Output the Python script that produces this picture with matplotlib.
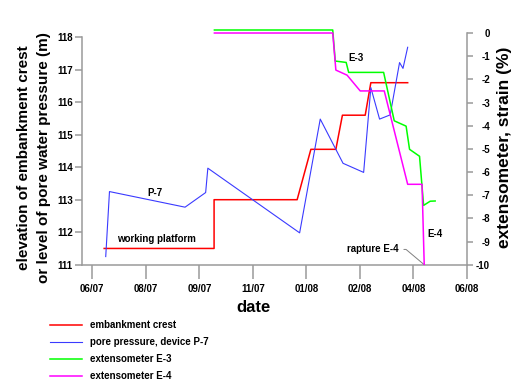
import matplotlib
matplotlib.use("Agg")
import matplotlib.pyplot as plt
import numpy as np

plt.rcParams['font.family'] = ['Liberation Sans', 'DejaVu Sans']
plt.rcParams['font.weight'] = 'bold'
plt.rcParams['axes.unicode_minus'] = False

# x values: months since June 2007
tick_pos = np.linspace(0, 12, 8)
tick_labels = ["06/07", "08/07", "09/07", "11/07", "01/08", "02/08", "04/08", "06/08"]

crest_x = [0.38, 3.90, 3.90, 6.56, 7.00, 7.80, 8.01, 8.74, 8.92, 10.10]
crest_y = [111.5, 111.5, 113.0, 113.0, 114.55, 114.55, 115.6, 115.6, 116.6, 116.6]

p7_x = [0.43, 0.55, 2.97, 3.63, 3.70, 6.64, 7.30, 8.03, 8.69, 8.92, 9.20, 9.54, 9.84, 9.95, 10.10]
p7_y = [111.25, 113.25, 112.77, 113.22, 113.97, 111.98, 115.48, 114.12, 113.84, 116.45,
        115.48, 115.61, 117.22, 117.04, 117.69]

e3_x = [3.91, 7.70, 7.78, 8.13, 8.21, 9.33, 9.67, 10.05, 10.16, 10.48, 10.61, 10.82, 10.98]
e3_y = [0.13, 0.13, -1.21, -1.27, -1.70, -1.70, -3.79, -4.02, -5.02, -5.32, -7.44, -7.26, -7.25]

e4_x = [3.91, 7.70, 7.80, 8.16, 8.58, 9.35, 10.10, 10.56, 10.63]
e4_y = [0.0, 0.0, -1.60, -1.82, -2.50, -2.50, -6.53, -6.53, -10.0]

left_ticks = [111, 112, 113, 114, 115, 116, 117, 118]
right_ticks = [0, -1, -2, -3, -4, -5, -6, -7, -8, -9, -10]

fig = plt.figure(figsize=(5.12, 3.81), dpi=100)
ax = fig.add_axes([82/512, (381-264.7)/381, (467-82)/512, (264.7-29)/381])
ax2 = ax.twinx()

grey = '#9a9a9a'
l1, = ax.plot(crest_x, crest_y, color='#ff0000', lw=1.1, label='embankment crest')
l2, = ax.plot(p7_x, p7_y, color='#3a3aff', lw=0.8, label='pore pressure, device P-7')
l3, = ax2.plot(e3_x, e3_y, color='#00ff00', lw=1.1, label='extensometer E-3')
l4, = ax2.plot(e4_x, e4_y, color='#ff00ff', lw=1.1, label='extensometer E-4')

ax.set_xlim(-0.33, 12)
ax.set_ylim(111, 111 + (264.7-29)/32.5)
ax2.set_ylim(-10.0, (33-29)/23.13)

for a in (ax, ax2):
    a.spines['top'].set_visible(False)
    for s in a.spines.values():
        s.set_color(grey)
        s.set_linewidth(1.1)
ax.spines['right'].set_visible(False)
ax2.spines['left'].set_visible(False)
ax2.spines['bottom'].set_visible(False)
ax.spines['left'].set_bounds(111, 118)
ax2.spines['right'].set_bounds(-10, 0)

ax.set_xticks(tick_pos)
ax.set_xticklabels(tick_labels)
ax.set_yticks(left_ticks)
ax2.set_yticks(right_ticks)
ax.tick_params(axis='x', length=10, width=1.1, color=grey, pad=4, labelsize=7)
ax.tick_params(axis='y', length=5, width=1.1, color=grey, pad=1.5, labelsize=7)
ax2.tick_params(axis='y', length=4.5, width=1.1, color=grey, pad=12, labelsize=7)
for lbl in ax2.get_yticklabels():
    lbl.set_ha('right')

# annotations
ax.text(2.01, 113.22, "P-7", fontsize=7, fontweight='bold', ha='center', va='center')
ax.text(2.04, 111.78, "working platform", fontsize=7, fontweight='bold', ha='center', va='center')
ax.text(8.43, 117.37, "E-3", fontsize=7, fontweight='bold', ha='center', va='center')
ax.text(10.97, 111.95, "E-4", fontsize=7, fontweight='bold', ha='center', va='center')
ax.annotate("rapture E-4", xy=(10.63, 111.0), xytext=(9.80, 111.47),
            fontsize=7, fontweight='bold', ha='right', va='center',
            arrowprops=dict(arrowstyle='-', color='grey', lw=0.7,
                            shrinkA=2, shrinkB=0,
                            connectionstyle='angle,angleA=0,angleB=-40,rad=0'))

fig.text(34/512, (381-158)/381,
         "elevation of embankment crest\nor level of pore water pressure (m)",
         rotation=90, ha='center', va='center', fontsize=11, fontweight='bold',
         linespacing=1.55)
fig.text(504/512, (381-147)/381, "extensometer, strain (%)", rotation=90,
         ha='center', va='center', fontsize=12.5, fontweight='bold')
fig.text(253.5/512, (381-307)/381, "date", ha='center', va='center',
         fontsize=12, fontweight='bold')

fig.legend(handles=[l1, l2, l3, l4], loc='upper left',
           bbox_to_anchor=(50/512, (381-320)/381), frameon=False,
           fontsize=7, handlelength=3.3, handletextpad=0.8,
           labelspacing=0.72, borderpad=0, borderaxespad=0)

fig.savefig("out.png", dpi=100)
